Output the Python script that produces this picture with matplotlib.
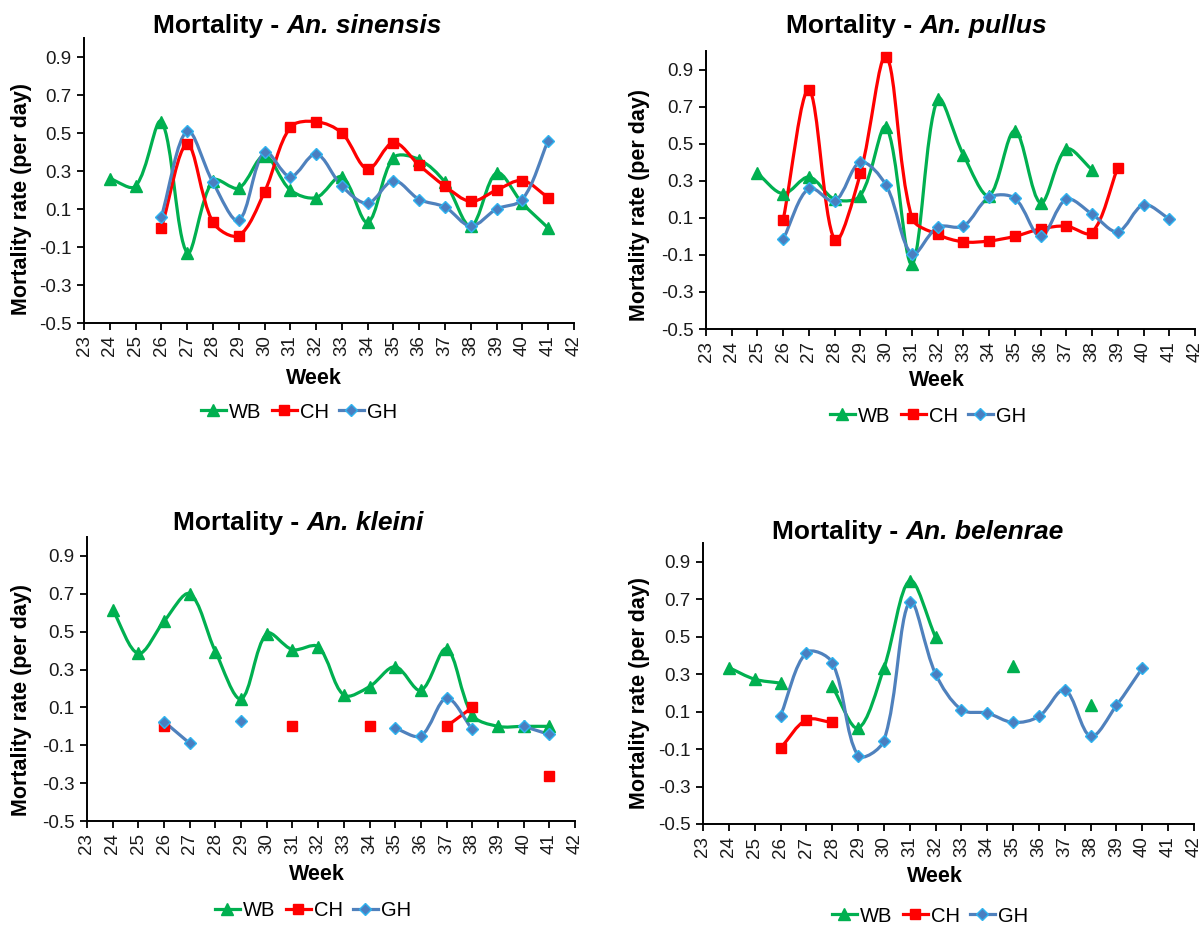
import numpy as np
import matplotlib
matplotlib.use("Agg")
import matplotlib.pyplot as plt
from matplotlib.path import Path
from matplotlib.patches import PathPatch
from matplotlib.lines import Line2D

plt.rcParams['font.family'] = ['Liberation Sans', 'DejaVu Sans']

nan = np.nan
WEEKS = list(range(24, 42))
XTICKS = list(range(23, 43))
YTICKS = [-0.5, -0.3, -0.1, 0.1, 0.3, 0.5, 0.7, 0.9]
SERIES = ["WB", "CH", "GH"]
SPECIES = ["An. sinensis", "An. pullus", "An. kleini", "An. belenrae"]

# ---- An. sinensis ----
sin_WB = [0.26, 0.22, 0.56, -0.13, 0.25, 0.21, 0.38, 0.20, 0.16, 0.27, 0.03, 0.37, 0.36, 0.24, 0.01, 0.29, 0.13, 0.00]
sin_CH = [nan, nan, 0.00, 0.44, 0.03, -0.04, 0.19, 0.53, 0.56, 0.50, 0.31, 0.45, 0.33, 0.22, 0.14, 0.20, 0.25, 0.16]
sin_GH = [nan, nan, 0.06, 0.51, 0.24, 0.04, 0.40, 0.27, 0.39, 0.22, 0.13, 0.25, 0.15, 0.11, 0.01, 0.10, 0.15, 0.46]
# ---- An. pullus ----
pul_WB = [nan, 0.34, 0.23, 0.32, 0.20, 0.22, 0.59, -0.15, 0.74, 0.44, 0.22, 0.57, 0.18, 0.47, 0.36, nan, nan, nan]
pul_CH = [nan, nan, 0.09, 0.79, -0.02, 0.34, 0.97, 0.10, 0.01, -0.03, -0.025, 0.00, 0.04, 0.055, 0.02, 0.37, nan, nan]
pul_GH = [nan, nan, -0.015, 0.26, 0.19, 0.40, 0.275, -0.095, 0.05, 0.055, 0.21, 0.205, 0.00, 0.20, 0.12, 0.025, 0.17, 0.095]
# ---- An. kleini ----
kle_WB = [0.615, 0.385, 0.555, 0.70, 0.395, 0.145, 0.49, 0.405, 0.42, 0.165, 0.21, 0.315, 0.19, 0.41, 0.06, 0.00, 0.00, 0.00]
kle_CH = [nan, nan, 0.00, nan, nan, nan, nan, 0.00, nan, nan, 0.00, nan, nan, 0.00, 0.10, nan, nan, -0.26]
kle_GH = [nan, nan, 0.025, -0.09, nan, 0.03, nan, nan, nan, nan, nan, -0.01, -0.05, 0.148, -0.015, nan, 0.00, -0.043]
# ---- An. belenrae ----
bel_WB = [0.335, 0.273, 0.252, nan, 0.234, 0.012, 0.332, 0.799, 0.497, nan, nan, 0.344, nan, nan, 0.133, nan, nan, nan]
bel_CH = [nan, nan, -0.095, 0.056, 0.042, nan, nan, nan, nan, nan, nan, nan, nan, nan, nan, nan, nan, nan]
bel_GH = [nan, nan, 0.078, 0.415, 0.362, -0.135, -0.055, 0.687, 0.301, 0.110, 0.092, 0.042, 0.074, 0.216, -0.032, 0.133, 0.332, nan]

DATA = [
    (sin_WB, sin_CH, sin_GH),
    (pul_WB, pul_CH, pul_GH),
    (kle_WB, kle_CH, kle_GH),
    (bel_WB, bel_CH, bel_GH),
]

STYLE = {
    "WB": dict(color="#00B050", marker="^", mfc="#00B050", mec="#00B050", ms=9),
    "CH": dict(color="#FF0000", marker="s", mfc="#FF0000", mec="#FF0000", ms=7.8),
    "GH": dict(color="#4F81BD", marker="D", mfc="#4A7EC0", mec="#2EB4F0", ms=6.4),
}

W, H = 1203, 927
fig = plt.figure(figsize=(W / 100, H / 100), dpi=100)

# pixel layouts: (left, right, top, bottom)
AX_PX = [(84, 574, 38, 323), (706, 1195, 51, 329), (87, 575, 537, 821), (703, 1194, 543, 824)]
TITLE_PX = [(297, 33), (917, 33), (298, 530), (918, 539)]
WEEK_PX = [(314, 378), (937, 381), (317, 875), (935, 876)]
LEG_PX = [(299, 412), (928, 416), (313, 911), (930, 916)]
YLAB_PX = [(22, 199), (640, 205), (22, 700), (639, 693)]


def fx(px):
    return px / W


def fy(py):
    return 1 - py / H


def smooth_path(ax, xs, ys):
    P = np.column_stack([xs, ys]).astype(float)
    D = ax.transData.transform(P)  # display coords, used for distance weights only
    n = len(P)
    verts = [tuple(P[0])]
    codes = [Path.MOVETO]

    def dist(a, b):
        return float(np.hypot(*(D[a] - D[b])))

    for i in range(n - 1):
        i0 = i - 1 if i > 0 else i
        i3 = i + 2 if i + 2 < n else i + 1
        d01 = dist(i0, i)
        d12 = dist(i, i + 1)
        d23 = dist(i + 1, i3)
        w1 = d12 / (d01 + d12) if (d01 + d12) > 0 else 0.5
        w2 = d12 / (d12 + d23) if (d12 + d23) > 0 else 0.5
        c1 = P[i] + (P[i + 1] - P[i0]) * w1 / 3.0
        c2 = P[i + 1] - (P[i3] - P[i]) * w2 / 3.0
        verts += [tuple(c1), tuple(c2), tuple(P[i + 1])]
        codes += [Path.CURVE4] * 3
    return Path(verts, codes)


def runs(x, y):
    out, cx, cy = [], [], []
    for a, b in zip(x, y):
        if np.isnan(b):
            if cx:
                out.append((cx, cy))
            cx, cy = [], []
        else:
            cx.append(a)
            cy.append(b)
    if cx:
        out.append((cx, cy))
    return out


renderer = fig.canvas.get_renderer()

for k in range(4):
    l, r, t, b = AX_PX[k]
    ax = fig.add_axes([fx(l), fy(b), (r - l) / W, (b - t) / H])
    ax.set_xlim(23, 42)
    ax.set_ylim(-0.5, 1.0)
    for s in ("top", "right"):
        ax.spines[s].set_visible(False)
    for s in ("left", "bottom"):
        ax.spines[s].set_linewidth(1.4)
        ax.spines[s].set_color("#000000")
    ax.set_xticks(XTICKS)
    ax.set_xticklabels([str(v) for v in XTICKS], rotation=90, fontsize=13.5, color="#1a1a1a")
    ax.set_yticks(YTICKS)
    ax.set_yticklabels([f"{v:.1f}" for v in YTICKS], fontsize=13.5, color="#1a1a1a")
    ax.tick_params(axis="both", direction="out", length=5, width=1.3, color="#000000")
    ax.tick_params(axis="x", pad=4)
    ax.tick_params(axis="y", pad=4)
    ax.patch.set_alpha(0)

    for j, name in enumerate(SERIES):
        st = STYLE[name]
        y = DATA[k][j]
        for rx, ry in runs(WEEKS, y):
            if len(rx) > 1:
                patch = PathPatch(smooth_path(ax, rx, ry), facecolor="none", edgecolor=st["color"],
                                  lw=2.3, transform=ax.transData, zorder=2 + j * 0.1,
                                  capstyle="round", joinstyle="round", clip_on=False)
                ax.add_patch(patch)
        ax.plot(WEEKS, y, linestyle="none", marker=st["marker"], markersize=st["ms"],
                markerfacecolor=st["mfc"], markeredgecolor=st["mec"], markeredgewidth=1.0,
                zorder=3 + j * 0.1, clip_on=False)

    # title (bold + bold italic)
    cx, by = TITLE_PX[k]
    t1 = fig.text(0, fy(by), "Mortality - ", fontsize=19, fontweight="bold", va="baseline")
    t2 = fig.text(0, fy(by), SPECIES[k], fontsize=19, fontweight="bold", fontstyle="italic", va="baseline")
    w1 = t1.get_window_extent(renderer).width
    w2 = t2.get_window_extent(renderer).width
    x0 = cx - (w1 + w2) / 2
    t1.set_x(fx(x0))
    t2.set_x(fx(x0 + w1))

    wx, wy = WEEK_PX[k]
    fig.text(fx(wx), fy(wy), "Week", fontsize=15.5, fontweight="bold", ha="center", va="center")
    yx, yy = YLAB_PX[k]
    fig.text(fx(yx), fy(yy), "Mortality rate (per day)", fontsize=15.5, fontweight="bold",
             rotation=90, ha="center", va="center")

    handles = []
    for name in SERIES:
        st = STYLE[name]
        handles.append(Line2D([0], [0], color=st["color"], lw=2.3, marker=st["marker"],
                              markersize=st["ms"], markerfacecolor=st["mfc"],
                              markeredgecolor=st["mec"], markeredgewidth=1.0))
    lx, ly = LEG_PX[k]
    fig.legend(handles, SERIES, loc="center", bbox_to_anchor=(fx(lx), fy(ly)), ncol=3,
               frameon=False, fontsize=14.5, handlelength=1.25, handletextpad=0.15,
               columnspacing=0.5, borderpad=0, borderaxespad=0)

fig.savefig("out.png", dpi=100)
